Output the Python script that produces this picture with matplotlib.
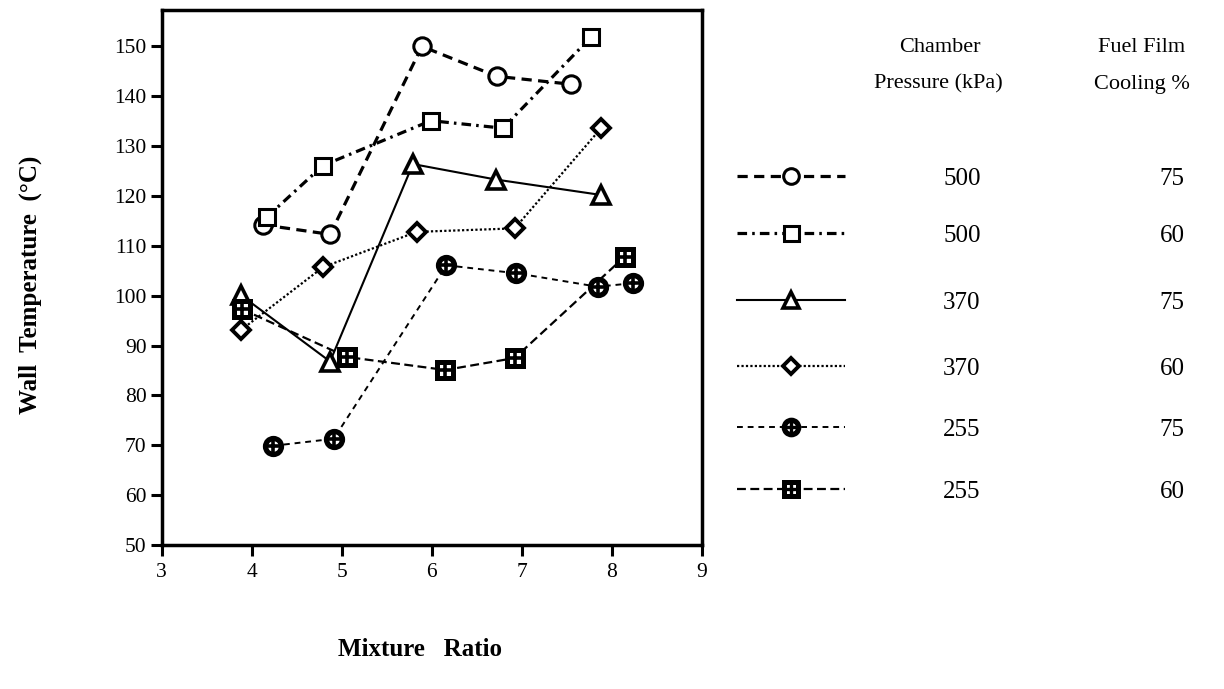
import matplotlib
matplotlib.use('Agg')
import matplotlib.pyplot as plt

plt.rcParams['font.family'] = ['Liberation Serif', 'DejaVu Serif']

# mixture ratio / wall temperature
x_500_75 = [4.13, 4.87, 5.89, 6.72, 7.55]
y_500_75 = [114.2, 112.3, 150.0, 144.0, 142.4]

x_500_60 = [4.17, 4.79, 5.99, 6.79, 7.77]
y_500_60 = [115.8, 126.1, 135.1, 133.6, 151.9]

x_370_75 = [3.88, 4.87, 5.79, 6.71, 7.88]
y_370_75 = [100.1, 86.8, 126.4, 123.3, 120.2]

x_370_60 = [3.88, 4.79, 5.83, 6.92, 7.88]
y_370_60 = [93.1, 105.7, 112.8, 113.5, 133.6]

x_255_75 = [4.24, 4.91, 6.16, 6.94, 7.84, 8.23]
y_255_75 = [69.9, 71.3, 106.1, 104.5, 101.8, 102.5]

x_255_60 = [3.89, 5.06, 6.15, 6.92, 8.14]
y_255_60 = [97.3, 87.7, 85.1, 87.5, 107.8]

pressure = ['500', '500', '370', '370', '255', '255']
cooling = ['75', '60', '75', '60', '75', '60']

series = [
    (x_500_75, y_500_75, dict(lw=2.3, dashes=(3.2, 2.0), marker='o', ms=12.5, mew=2.2, cross=False)),
    (x_500_60, y_500_60, dict(lw=2.3, dashes=(3.0, 1.6, 0.8, 1.6), marker='s', ms=12, mew=2.2, cross=False)),
    (x_370_75, y_370_75, dict(lw=1.5, dashes=(), marker='^', ms=12.5, mew=2.6, cross=False)),
    (x_370_60, y_370_60, dict(lw=1.6, dashes=(1.0, 1.0), marker='D', ms=9, mew=2.8, cross=False)),
    (x_255_75, y_255_75, dict(lw=1.4, dashes=(3.0, 2.5), marker='o', ms=11.5, mew=3.8, cross=True)),
    (x_255_60, y_255_60, dict(lw=1.6, dashes=(4.0, 2.0), marker='s', ms=11.5, mew=3.6, cross=True)),
]


def draw(ax, x, y, st):
    ls = '-' if not st['dashes'] else (0, st['dashes'])
    ax.plot(x, y, color='black', lw=st['lw'], linestyle=ls, zorder=2)
    ax.plot(x, y, linestyle='none', marker=st['marker'], ms=st['ms'],
            mfc='white', mec='black', mew=st['mew'], zorder=3)
    if st['cross']:
        ax.plot(x, y, linestyle='none', marker='+', ms=st['ms'] * 0.95,
                mec='black', mew=2.6, zorder=4)


fig = plt.figure(figsize=(12.24, 6.89), dpi=100)
ax = fig.add_axes([0.1321, 0.209, 0.4414, 0.7765])

for x, y, st in series:
    draw(ax, x, y, st)

ax.set_xlim(3, 9)
ax.set_ylim(50, 157.3)
ax.set_xticks(range(3, 10))
ax.set_yticks(range(50, 151, 10))
for s in ax.spines.values():
    s.set_linewidth(2.5)
ax.tick_params(direction='out', length=8, width=2.2, labelsize=15.5)
ax.tick_params(axis='x', pad=5)
ax.tick_params(axis='y', pad=3)

fig.text(30 / 1224, 1 - 285 / 689, 'Wall  Temperature  (\u00b0C)', rotation=90,
         ha='center', va='center', fontsize=18, fontweight='bold')
fig.text(420 / 1224, 1 - 650 / 689, 'Mixture   Ratio', ha='center', va='center',
         fontsize=18, fontweight='bold')

# legend table on the right
lax = fig.add_axes([0, 0, 1, 1])
lax.set_xlim(0, 1224)
lax.set_ylim(689, 0)
lax.axis('off')
lax.patch.set_visible(False)

lax.text(940, 47, 'Chamber', ha='center', va='center', fontsize=16)
lax.text(938, 84, 'Pressure (kPa)', ha='center', va='center', fontsize=16)
lax.text(1142, 47, 'Fuel Film', ha='center', va='center', fontsize=16)
lax.text(1142, 84, 'Cooling %', ha='center', va='center', fontsize=16)

row_y = [176, 233, 300, 366, 427, 489]
for i, (x, y, st) in enumerate(series):
    yy = row_y[i]
    ls = '-' if not st['dashes'] else (0, st['dashes'])
    lax.plot([737, 845], [yy, yy], color='black', lw=st['lw'], linestyle=ls, zorder=2)
    lax.plot([791], [yy], linestyle='none', marker=st['marker'], ms=st['ms'] * 0.9,
             mfc='white', mec='black', mew=st['mew'], zorder=3)
    if st['cross']:
        lax.plot([791], [yy], linestyle='none', marker='+', ms=st['ms'] * 0.85,
                 mec='black', mew=2.4, zorder=4)
    lax.text(962, yy + 3, pressure[i], ha='center', va='center', fontsize=18)
    lax.text(1172, yy + 3, cooling[i], ha='center', va='center', fontsize=18)

fig.savefig('out.png', dpi=100)
